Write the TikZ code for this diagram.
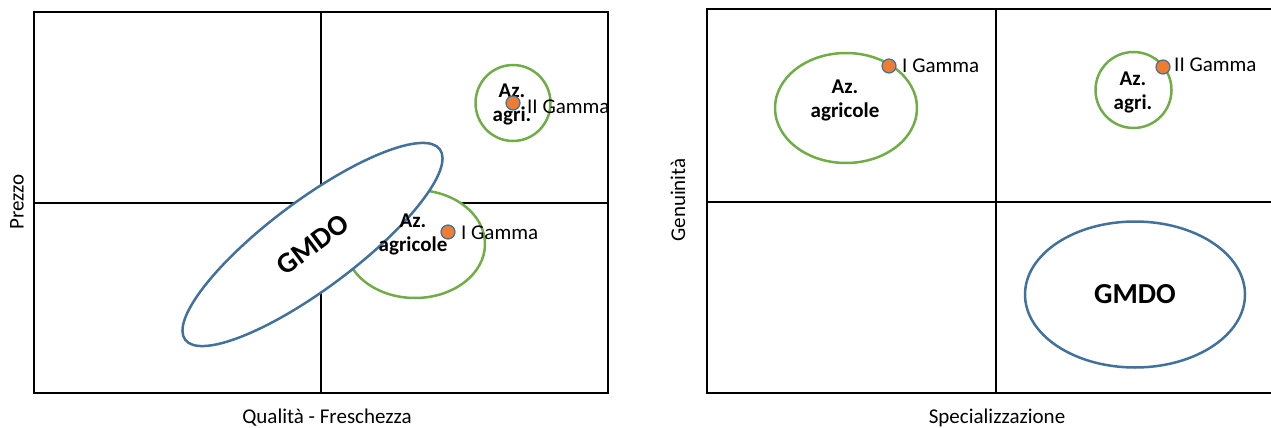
\documentclass[tikz,border=0pt]{standalone}
\usepackage{fontspec}
\setmainfont{Carlito}
\usetikzlibrary{shapes.geometric}
\definecolor{ringgreen}{RGB}{112,173,71}
\definecolor{ringblue}{RGB}{65,113,156}
\definecolor{dotorange}{RGB}{237,125,49}
\begin{document}
\begin{tikzpicture}[x=1pt,y=-1pt,
  axis/.style={draw=black,line width=2pt},
  ring/.style={ellipse,draw=ringgreen,line width=2.5pt,fill=white,inner sep=0pt,outer sep=0pt},
  gmdo/.style={ellipse,draw=ringblue,line width=2.5pt,fill=white,inner sep=0pt,outer sep=0pt,
               font=\fontsize{29}{32}\selectfont\bfseries},
  lbl/.style={font=\fontsize{21}{24}\selectfont,inner sep=0pt},
  blbl/.style={font=\fontsize{21}{24}\selectfont\bfseries,align=center,inner sep=0pt},
  gdot/.style={circle,fill=dotorange,draw=ringblue,line width=1.2pt,minimum size=14pt,inner sep=0pt}]
\useasboundingbox (0,0) rectangle (1271,428);

% ---------- left chart: Prezzo / Qualita - Freschezza ----------
\coordinate (L-nw) at (34,12);
\coordinate (L-se) at (608,393);
\coordinate (L-top) at (321,12);
\coordinate (L-bot) at (321,393);
\coordinate (L-lft) at (34,203);
\coordinate (L-rgt) at (608,203);
\draw[axis] (L-nw) rectangle (L-se);
\draw[axis] (L-top) -- (L-bot);
\draw[axis] (L-lft) -- (L-rgt);

\node[ring,minimum width=75pt,minimum height=76pt] (L-ring2) at (513,103) {};
\node[ring,minimum width=140pt,minimum height=108pt] (L-ring1) at (415,244) {};
\node[gmdo,rotate=36.8,minimum width=318pt,minimum height=88pt] (L-gmdo) at (312.5,244.5) {GMDO};

\node[blbl] (L-az2) at (512,104) {Az.\\agri.};
\node[blbl] (L-az1) at (413,234) {Az.\\agricole};
\node[gdot] (L-dot2) at (513,103) {};
\node[gdot] (L-dot1) at (448,232) {};
\node[lbl,anchor=west] (L-g2) at (527,107) {II Gamma};
\node[lbl,anchor=west] (L-g1) at (461,233) {I Gamma};

\node[lbl,rotate=90] (L-ylab) at (17,202) {Prezzo};
\node[lbl] (L-xlab) at (327,418) {Qualità - Freschezza};

% ---------- right chart: Genuinita / Specializzazione ----------
\coordinate (R-nw) at (707,9);
\coordinate (R-se) at (1275,393);
\coordinate (R-top) at (996,9);
\coordinate (R-bot) at (996,393);
\coordinate (R-lft) at (707,202);
\coordinate (R-rgt) at (1275,202);
\draw[axis] (R-nw) rectangle (R-se);
\draw[axis] (R-top) -- (R-bot);
\draw[axis] (R-lft) -- (R-rgt);

\node[ring,minimum width=142pt,minimum height=110pt] (R-ring1) at (846,108) {};
\node[ring,minimum width=76pt,minimum height=76pt] (R-ring2) at (1133.5,90) {};
\node[gmdo,minimum width=220pt,minimum height=146pt] (R-gmdo) at (1135,294.5) {GMDO};

\node[blbl] (R-az1) at (845,100) {Az.\\agricole};
\node[blbl] (R-az2) at (1133,92) {Az.\\agri.};
\node[gdot] (R-dot1) at (889,66) {};
\node[gdot] (R-dot2) at (1163,67) {};
\node[lbl,anchor=west] (R-g1) at (902,66) {I Gamma};
\node[lbl,anchor=west] (R-g2) at (1174,65) {II Gamma};

\node[lbl,rotate=90] (R-ylab) at (678,200) {Genuinità};
\node[lbl] (R-xlab) at (997,418) {Specializzazione};
\end{tikzpicture}
\end{document}
